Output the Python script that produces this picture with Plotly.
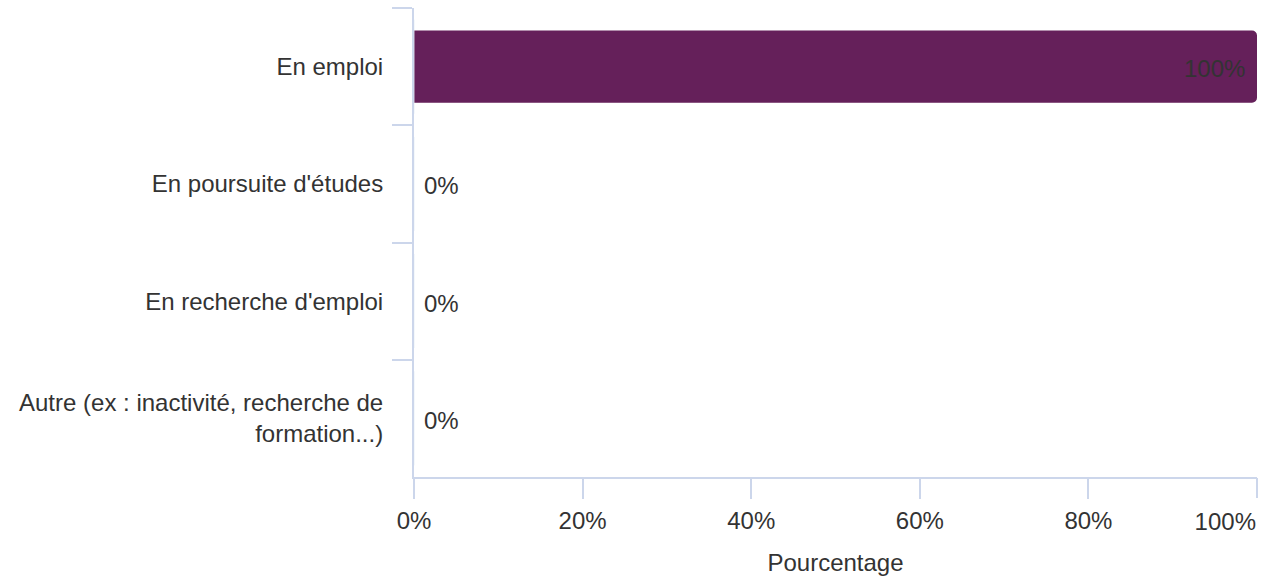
import plotly.graph_objects as go

categories = ["En emploi", "En poursuite d'études", "En recherche d'emploi",
              "Autre (ex : inactivité, recherche de<br>formation...)"]
values = [100, 0, 0, 0]
labels = ["100%", "0%", "0%", "0%"]
x_ticks = [0, 20, 40, 60, 80]
x_ticktext = ["0%", "20%", "40%", "60%", "80%"]
x_last_tick = [100]
x_last_ticktext = ["100%"]

axis_color = "#ccd6eb"
text_color = "#333333"
font_family = "Liberation Sans, Arial, sans-serif"
fsize = 24

fig = go.Figure(go.Bar(
    x=values, y=categories, orientation="h",
    marker=dict(color="#65205a", line=dict(width=0)),
    cliponaxis=False,
    width=0.615,
    hoverinfo="x+y",
))
# invisible companion trace so the overlay axis renders
fig.add_trace(go.Bar(x=[0] * len(categories), y=categories, orientation="h",
                     xaxis="x2", yaxis="y", marker=dict(color="rgba(0,0,0,0)"),
                     hoverinfo="skip", showlegend=False))

for cat, v, lab in zip(categories, values, labels):
    inside = v > 0
    fig.add_annotation(
        x=v, y=cat, xref="x", yref="y", text=lab, showarrow=False,
        xanchor="right" if inside else "left",
        xshift=-10 if inside else 8,
        yshift=-2,
        font=dict(size=fsize, color=text_color, family=font_family),
    )

fig.update_layout(
    width=1263, height=579,
    margin=dict(l=414, r=6, t=8, b=102, autoexpand=False),
    paper_bgcolor="white", plot_bgcolor="white",
    font=dict(family=font_family, size=fsize, color=text_color),
    barcornerradius=5,
    barmode="overlay",
    showlegend=False,
    xaxis2=dict(
        overlaying="x", anchor="y", side="bottom", range=[0, 100],
        tickvals=x_last_tick, ticktext=x_last_ticktext,
        ticklabelposition="outside left",
        showgrid=False, zeroline=False, showline=False,
        ticks="outside", ticklen=20, tickwidth=2, tickcolor=axis_color,
        ticklabelstandoff=23, automargin=False,
        tickfont=dict(size=fsize, color=text_color),
    ),
)

fig.layout.xaxis.update(
    range=[0, 100], tickvals=x_ticks, ticktext=x_ticktext,
    showgrid=False, zeroline=False,
    showline=True, linecolor=axis_color, linewidth=2,
    ticks="outside", ticklen=20, tickwidth=2, tickcolor=axis_color,
    ticklabelstandoff=1,
    automargin=False,
    tickfont=dict(size=fsize, color=text_color),
    title=dict(text="Pourcentage", font=dict(size=fsize, color=text_color), standoff=21),
)

fig.update_yaxes(
    categoryorder="array", categoryarray=categories, autorange="reversed",
    showgrid=False, zeroline=False,
    showline=True, linecolor=axis_color, linewidth=2,
    ticks="outside", ticklen=20, tickwidth=2, tickcolor=axis_color,
    tickson="boundaries",
    ticklabelstandoff=24,
    automargin=False,
    tickfont=dict(size=fsize, color=text_color),
)

fig.write_html("out.html", config={"displayModeBar": False},
               post_script="document.body.style.margin='0';")
